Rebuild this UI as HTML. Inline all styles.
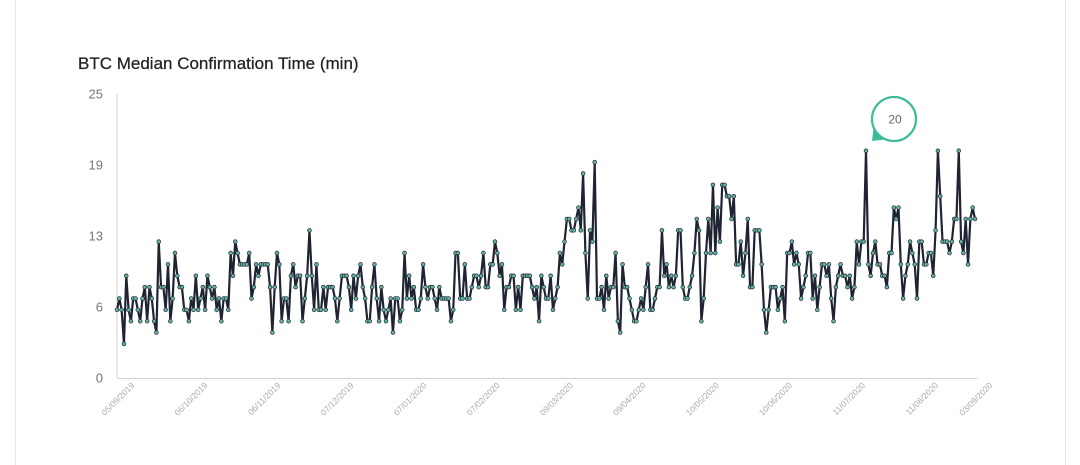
<!DOCTYPE html>
<html><head><meta charset="utf-8"><style>
html,body{margin:0;padding:0;background:#fff;width:1080px;height:465px;overflow:hidden;font-family:"Liberation Sans",sans-serif}
</style></head><body>
<svg width="1080" height="465" viewBox="0 0 1080 465" xmlns="http://www.w3.org/2000/svg">
<rect x="15.5" y="-2" width="1050" height="480" fill="#fff" stroke="#e6e6e6"/>
<text x="78" y="69" font-size="17" fill="#222" stroke="#222" stroke-width="0.25">BTC Median Confirmation Time (min)</text>
<g id="yaxis"></g>
<g id="xaxis"></g>
<g id="plot"></g>
<g>
<path d="M872,141 L874,124 L889,139 Z" fill="#3dbb9a"/>
<circle cx="894" cy="119" r="22" fill="#fff" stroke="#3dbb9a" stroke-width="2.2"/>
<text x="895" y="123.5" font-size="12" fill="#666" text-anchor="middle">20</text>
</g>
</svg>
<script>
const values = [6,7,6,3,9,6,5,7,7,6,5,7,8,5,8,7,5,4,12,8,8,6,10,5,7,11,9,8,8,6,6,5,7,6,9,6,7,8,6,9,8,7,8,6,7,5,7,7,6,11,9,12,11,10,10,10,10,11,7,8,10,9,10,10,10,10,8,4,8,11,10,5,7,7,5,9,10,8,9,9,5,7,9,13,9,6,10,6,6,8,6,8,8,8,7,5,7,9,9,9,8,6,9,7,9,10,8,7,5,5,8,10,7,5,8,6,5,6,7,4,7,7,5,6,11,7,9,7,8,6,6,7,10,8,7,8,8,7,6,8,7,7,7,7,5,6,11,11,
7,7,10,7,7,8,9,9,8,9,11,8,8,10,10,12,11,9,10,6,8,8,9,9,6,8,6,9,9,9,9,8,7,8,5,9,8,7,7,9,6,7,8,11,10,12,14,14,13,13,14,15,13,18,11,7,13,12,19,7,7,8,6,9,7,8,8,11,5,4,10,8,8,7,6,5,5,6,7,6,8,10,6,6,7,8,8,13,9,10,8,9,8,9,13,13,8,7,7,8,9,11,14,13,5,7,11,14,11,17,11,15,12,17,17,16,16,14,16,10,10,
12,9,11,14,8,8,13,13,13,10,6,4,6,8,8,8,6,7,8,5,11,11,12,10,11,10,7,8,9,11,11,7,9,6,8,10,10,9,10,7,5,8,9,10,9,9,8,9,7,8,12,10,12,12,20,10,9,11,12,10,10,9,9,8,11,11,15,14,15,10,7,9,10,12,11,10,7,12,12,10,10,11,11,9,13,20,16,12,12,12,11,12,14,14,20,12,11,14,10,14,15,14];
const yTicks = [0,6,13,19,25];
const xTickLabels = ["05/09/2019","06/10/2019","06/11/2019","07/12/2019","07/01/2020","07/02/2020","09/03/2020","09/04/2020","10/05/2020","10/06/2020","11/07/2020","11/08/2020","03/09/2020"];
const xTickDays = [0,31,62,93,124,155,186,217,248,279,310,341,364];
const totalDays = 364;

const X0=117,X1=975,Y0=378,Y1=94,YMAX=25;
const NS="http://www.w3.org/2000/svg";
function y(v){return Y0-(v/YMAX)*(Y0-Y1);}
function xi(i){return X0+i*(X1-X0)/(values.length-1);}
function xd(d){return X0+d*(X1-X0)/totalDays;}
function mk(t,a){const e=document.createElementNS(NS,t);for(const k in a)e.setAttribute(k,a[k]);return e;}

const ya=document.getElementById('yaxis');
const yl=mk('line',{x1:X0,y1:Y1,x2:X0,y2:Y0,stroke:'#cfcfcf','stroke-width':1});


ya.appendChild(yl);
yTicks.forEach((t,k)=>{
  const py=Y0-k*(Y0-Y1)/(yTicks.length-1);
  const tx=mk('text',{x:103,y:py+4.5,'font-size':13,fill:'#777','text-anchor':'end'});
  tx.textContent=t;
  
  
  ya.appendChild(tx);
});
const xa=document.getElementById('xaxis');
const xl=mk('line',{x1:X0,y1:Y0+0.5,x2:977,y2:Y0+0.5,stroke:'#cfcfcf','stroke-width':1});


xa.appendChild(xl);
xTickLabels.forEach((lab,k)=>{
  const px=xd(xTickDays[k])+18, py=Y0+8;
  const tx=mk('text',{x:px,y:py,'font-size':8.5,fill:'#aaa','text-anchor':'end',transform:`rotate(-45 ${px} ${py})`});
  tx.textContent=lab;
  
  
  xa.appendChild(tx);
});
const plot=document.getElementById('plot');
let d='';
values.forEach((v,i)=>{d+=(i?'L':'M')+xi(i).toFixed(2)+','+y(v).toFixed(2);});
const path=mk('path',{d:d,fill:'none',stroke:'#1f2433','stroke-width':2.2,'stroke-linejoin':'round'});


plot.appendChild(path);
values.forEach((v,i)=>{
  const c=mk('circle',{cx:xi(i),cy:y(v),r:1.9,fill:'#62b5a0',stroke:'#1f2433','stroke-width':0.7});
  
  
  plot.appendChild(c);
});
</script>
</body></html>
